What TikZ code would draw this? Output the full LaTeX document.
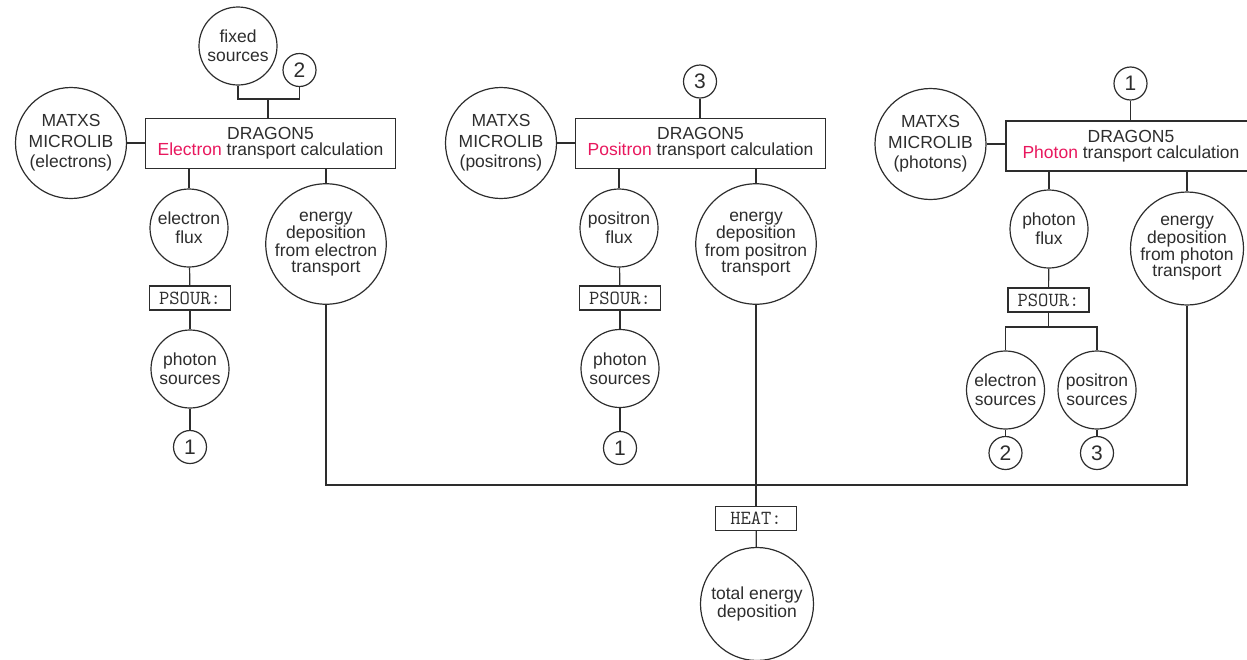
\documentclass[tikz,border=0pt]{standalone}
\usepackage{fontspec}
\setmainfont{Liberation Sans}
\definecolor{partred}{RGB}{232,23,93}
\definecolor{inkgray}{RGB}{45,45,45}
\begin{document}
\begin{tikzpicture}[x=1pt,y=-1pt,line width=1.2pt,draw=inkgray,text=inkgray]
        \tikzstyle{lib}=[circle,draw,inner sep=0pt,minimum size=111pt,align=center,font=\fontsize{17.5}{20.5}\selectfont]
        \tikzstyle{calc}=[rectangle,draw,inner sep=0pt,minimum width=250pt,minimum height=50pt,align=center,font=\fontsize{17.5}{16}\selectfont]
        \tikzstyle{small}=[circle,draw,inner sep=0pt,minimum size=78pt,align=center,font=\fontsize{17.5}{19}\selectfont]
        \tikzstyle{big}=[circle,draw,inner sep=0pt,minimum size=113pt,align=center,font=\fontsize{17.5}{16.3}\selectfont]
        \tikzstyle{link}=[circle,draw,inner sep=0pt,minimum size=33pt,font=\fontsize{21}{21}\selectfont]
        \tikzstyle{module}=[rectangle,draw,inner sep=0pt,minimum width=81pt,minimum height=24pt,font=\fontsize{20}{20}\ttfamily]
        \tikzstyle{edge}=[draw]
        \useasboundingbox (0,0) rectangle (1247,659);
       \begin{scope}
         % electron transport
         \node [lib] (m1) at (71,143) {MATXS\\MICROLIB\\(electrons)};
         \node [calc] (d1) at (270.5,143.5) {DRAGON5\\\textcolor{partred}{Electron} transport calculation};
         \node [small] (fs) at (238,46) {fixed\\sources};
         \node [link] (n2a) at (299.5,70) {2};
         \coordinate (j1) at (268,99);
         \node [small] (f1) at (189,228) {electron\\flux};
         \node [big] (e1) at (326,244) {energy\\deposition\\from electron\\transport};
         \node [module] (p1) at (190,298) {PSOUR:};
         \node [small] (s1) at (190,369) {photon\\sources};
         \node [link] (n1a) at (190,447) {1};

         \path[edge] (m1.east) edge (m1.east -| d1.west);
         \draw[edge] (fs.south) |- (j1) -| (n2a.south);
         \path[edge] (j1) edge (j1 |- d1.north);
         \path[edge] (f1 |- d1.south) edge (f1);
         \path[edge] (e1 |- d1.south) edge (e1);
         \path[edge] (f1) edge (p1);
         \path[edge] (p1) edge (s1);
         \path[edge] (s1) edge (n1a);

         % positron transport
         \node [lib] (m2) at (501,143) {MATXS\\MICROLIB\\(positrons)};
         \node [calc] (d2) at (700.5,143.5) {DRAGON5\\\textcolor{partred}{Positron} transport calculation};
         \node [link] (n3a) at (700,81.5) {3};
         \node [small] (f2) at (619,228) {positron\\flux};
         \node [big] (e2) at (756,244) {energy\\deposition\\from positron\\transport};
         \node [module] (p2) at (620,298) {PSOUR:};
         \node [small] (s2) at (620,368.5) {photon\\sources};
         \node [link] (n1b) at (620,448) {1};

         \path[edge] (m2.east) edge (m2.east -| d2.west);
         \path[edge] (n3a) edge (n3a |- d2.north);
         \path[edge] (f2 |- d2.south) edge (f2);
         \path[edge] (e2 |- d2.south) edge (e2);
         \path[edge] (f2) edge (p2);
         \path[edge] (p2) edge (s2);
         \path[edge] (s2) edge (n1b);

         % photon transport
         \node [lib] (m3) at (930.5,144) {MATXS\\MICROLIB\\(photons)};
         \node [calc] (d3) at (1131,146) {DRAGON5\\\textcolor{partred}{Photon} transport calculation};
         \node [link] (n1c) at (1130.5,83.5) {1};
         \node [small] (f3) at (1049,229) {photon\\flux};
         \node [big] (e3) at (1187,248.5) {energy\\deposition\\from photon\\transport};
         \node [module] (p3) at (1048.5,300) {PSOUR:};
         \coordinate (j3) at (1048.5,327);
         \node [small] (es) at (1005.5,390) {electron\\sources};
         \node [small] (ps) at (1097,390) {positron\\sources};
         \node [link] (n2b) at (1005.5,453) {2};
         \node [link] (n3b) at (1097,453) {3};

         \path[edge] (m3.east) edge (m3.east -| d3.west);
         \path[edge] (n1c) edge (n1c |- d3.north);
         \path[edge] (f3 |- d3.south) edge (f3);
         \path[edge] (e3 |- d3.south) edge (e3);
         \path[edge] (f3) edge (p3);
         \path[edge] (p3) edge (j3);
         \draw[edge] (es.north) |- (j3) -| (ps.north);
         \path[edge] (es) edge (n2b);
         \path[edge] (ps) edge (n3b);

         % heat
         \coordinate (bus) at (756,485);
         \node [module] (heat) at (756,518.5) {HEAT:};
         \node [big] (tot) at (757,604) {total energy\\deposition};

         \draw[edge] (e1.south) |- (bus) -| (e3.south);
         \path[edge] (e2) edge (heat);
         \path[edge] (heat) edge (tot);
        \end{scope}
      \end{tikzpicture}
\end{document}
